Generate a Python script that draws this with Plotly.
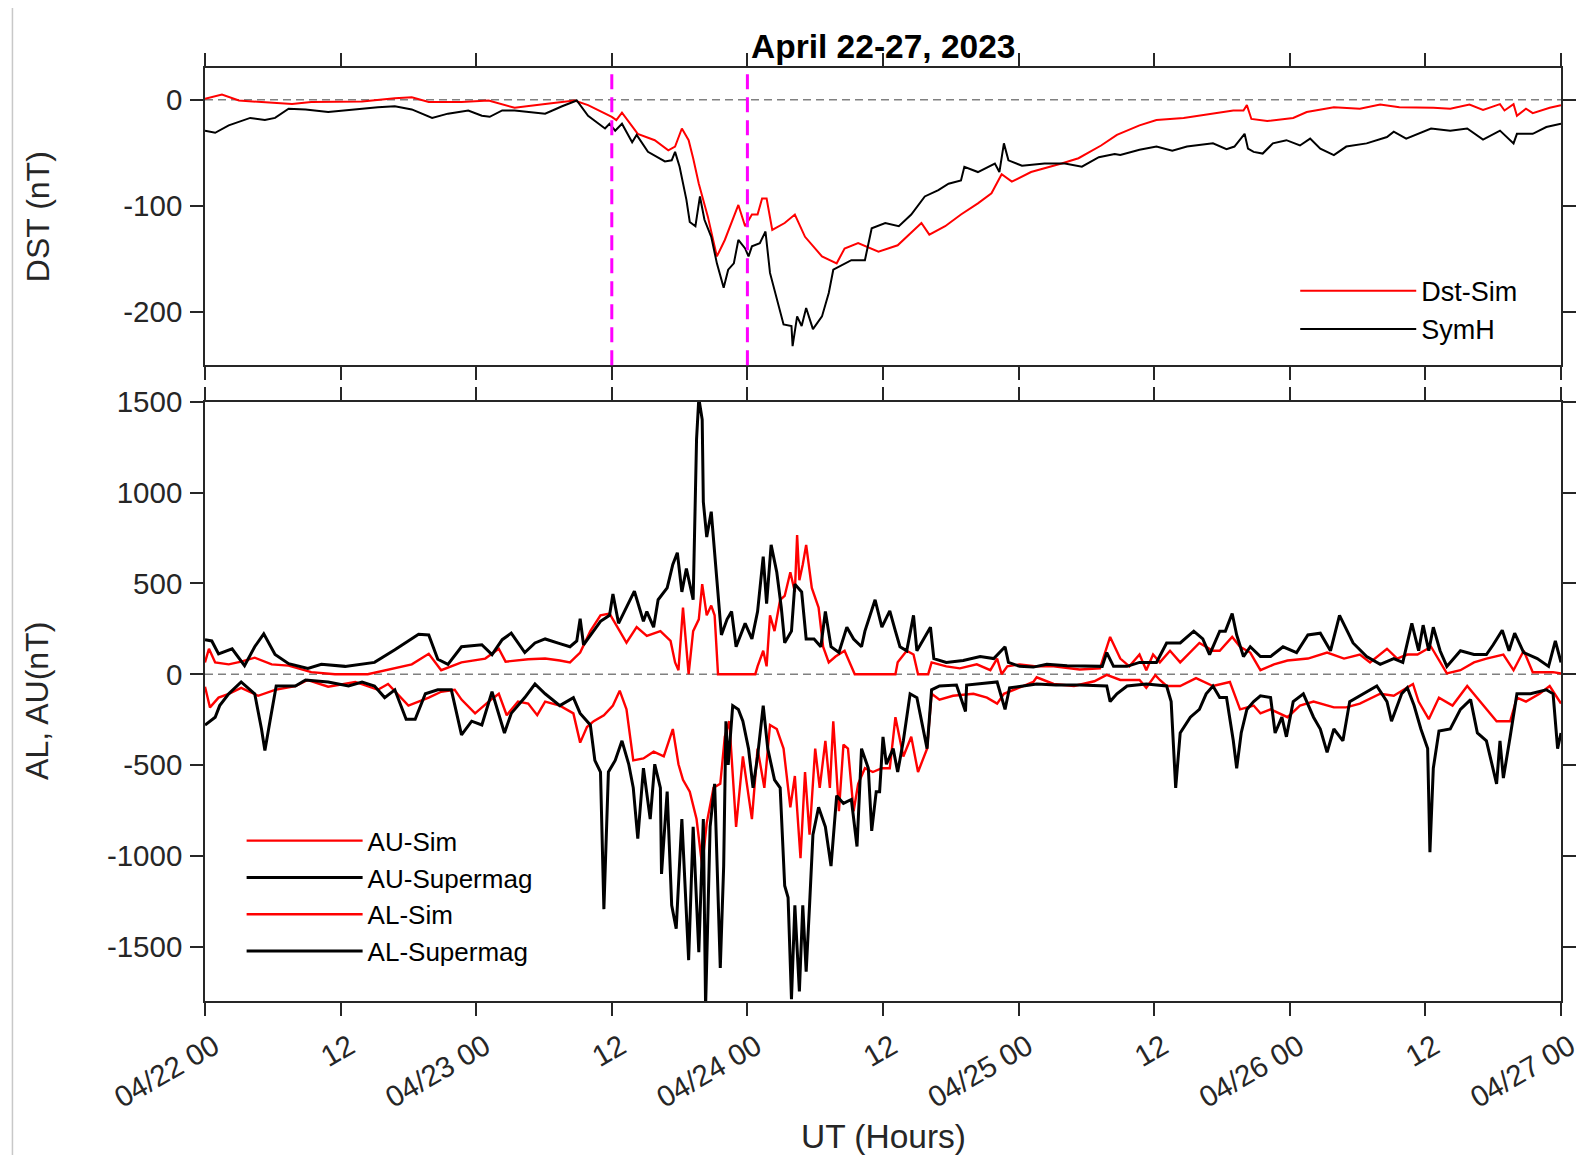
import plotly.graph_objects as go
from plotly.subplots import make_subplots

# ---------------- data (hours since 2023-04-22 00 UT) ----------------
dst_sim_t = [0, 1.5, 3.0, 4.7, 7.7, 9.4, 13.9, 16.8, 18.3, 19.8, 22.7, 25.1, 26.3, 27.4, 30.1, 31.6,
             32.7, 33.9, 36.0, 36.4, 36.9, 38.3, 39.8, 41.0, 41.6, 42.2, 42.8, 43.2, 43.7, 44.5, 45.3,
             46.0, 47.2, 47.8, 48.4, 48.9, 49.3, 49.7, 50.2, 51.3, 52.2, 53.1, 54.6, 55.9, 56.6, 57.8,
             59.6, 61.3, 63.4, 64.1, 65.5, 66.9, 68.4, 69.6, 70.5, 71.4, 73.1, 75.8, 77.3, 79.3, 80.7,
             82.7, 84.2, 86.6, 88.6, 91.0, 91.9, 92.2, 92.6, 94.0, 96.3, 97.5, 99.9, 102.2, 104.0, 105.7,
             108.7, 110.2, 111.9, 113.1, 114.6, 115.0, 115.8, 116.1, 116.9, 117.5, 119.0, 120.0]
dst_sim = [1, 5, -0.6, -2, -4, -2, -1.5, 1.5, 2.5, -2, -2, -0.6, -4, -7.5, -4, -2,
           -0.6, -5, -16, -19, -12, -32, -38, -47.5, -44, -27, -38, -55, -79, -110, -147.5,
           -132, -99, -119, -108, -108, -93, -93, -122.5, -116, -108, -129, -147.5, -154, -140, -135,
           -143, -137, -116, -127, -119, -108, -97.5, -88, -70, -77, -68, -60, -55, -43, -33,
           -24, -19, -17, -14, -10, -10, -5, -18, -20, -17, -11.5, -7, -8.4, -4.4, -7,
           -7.5, -8.4, -4.4, -9.4, -4, -10, -4, -15, -8.4, -12.5, -7.5, -5]

symh_t = [0, 0.9, 2.1, 3.0, 4.0, 5.3, 6.2, 7.4, 8.9, 10.9, 13.9, 15.3, 16.8, 18.3, 20.1, 21.5, 23.3,
          24.5, 25.2, 26.3, 27.4, 30.1, 31.6, 32.9, 33.9, 35.4, 35.8, 36.3, 36.9, 37.8, 38.2, 39.2,
          40.7, 41.3, 41.6, 42.0, 42.6, 42.9, 43.4, 43.8, 44.2, 44.8, 45.3, 45.9, 46.3, 46.8, 47.2,
          47.8, 48.1, 48.4, 49.1, 49.6, 50.0, 50.7, 51.2, 51.9, 52.0, 52.4, 52.8, 53.2, 53.8, 54.6,
          55.2, 55.6, 56.6, 57.2, 58.4, 59.0, 60.2, 61.4, 62.5, 63.7, 64.9, 65.8, 66.9, 67.2, 68.4,
          69.9, 70.3, 70.7, 71.1, 72.3, 74.3, 76.1, 77.6, 79.1, 80.5, 81.0, 82.7, 84.2, 85.6, 86.9,
          89.2, 90.4, 91.1, 92.0, 92.3, 92.8, 93.6, 94.5, 95.7, 96.9, 97.8, 98.7, 99.9, 101.0, 102.8,
          104.6, 105.2, 106.3, 108.5, 110.2, 111.7, 113.1, 114.6, 115.8, 116.1, 117.5, 118.7, 120.0]
symh = [-29, -31, -24, -21, -17, -19, -17, -8.4, -9, -11.5, -8, -7, -6, -9, -17, -13, -10,
        -15, -16, -10, -10, -13, -6, -0.6, -15, -27, -22.5, -29, -22.5, -40, -33, -49,
        -58, -57, -49, -63, -94, -115, -119, -91, -113, -129, -154, -177, -160, -154, -132,
        -140, -147.5, -138, -135, -124, -163, -191, -211.5, -213, -232, -204, -213, -196, -216, -204,
        -182, -160, -154, -151, -151, -121, -116, -119, -108, -91, -85, -79, -76, -63, -68,
        -60, -68, -41, -57, -62, -60, -60, -63, -54, -51, -52, -47, -44, -48, -44,
        -41, -46.5, -44, -32, -46, -49, -50.6, -41, -38, -43, -36.5, -46, -52, -44, -41,
        -35, -30, -36.5, -27, -29, -27, -37.5, -29, -41, -32, -32, -25.6, -22.5]

au_sim_t = [0, 0.35, 0.9, 2.1, 3.2, 4.4, 5.9, 7.4, 9.4, 11.5, 14.4, 16.8, 18.3, 19.8, 20.9, 22.7,
            24.8, 26.0, 26.6, 28.6, 30.1, 31.4, 32.3, 33.2, 34.1, 35.0, 35.8, 36.6, 37.3, 38.2, 39.1,
            40.3, 41.2, 41.6, 41.9, 42.3, 42.8, 43.2, 43.7, 44.0, 44.4, 44.8, 45.1, 45.4, 48.7, 48.9,
            49.4, 49.7, 50.0, 50.4, 50.9, 51.3, 51.8, 52.2, 52.4, 52.6, 52.9, 53.2, 53.7, 54.3, 54.7,
            55.2, 55.8, 56.6, 57.2, 57.5, 61.1, 61.3, 62.1, 62.7, 63.1, 64.0, 64.3, 65.6, 66.8, 68.3,
            69.5, 70.1, 70.5, 71.0, 72.1, 73.6, 75.1, 77.4, 79.2, 80.1, 81.0, 81.8, 82.7, 83.3, 83.9,
            84.5, 85.4, 86.3, 88.0, 89.2, 89.8, 90.9, 91.6, 92.5, 93.4, 94.6, 95.8, 97.6, 99.3, 100.8,
            102.2, 103.1, 104.6, 105.5, 106.4, 107.3, 108.5, 109.3, 109.9, 111.1, 112.3, 113.4, 114.9,
            115.8, 116.7, 117.5, 119.3, 120.0]
au_sim = [65, 140, 65, 54, 69, 91, 54, 47, 11, 0, 0, 32, 54, 112, 22, 65,
          86, 140, 69, 82, 86, 75, 65, 119, 237, 324, 334, 248, 173, 259, 211,
          237, 183, 65, 22, 367, 0, 237, 302, 496, 324, 378, 324, 0, 0, 43,
          129, 43, 324, 237, 410, 431, 561, 453, 766, 518, 604, 712, 475, 367, 151,
          65, 97, 129, 43, 0, 0, 65, 129, 108, 0, 0, 65, 43, 32, 54,
          22, 86, 0, 43, 54, 43, 43, 26, 32, 205, 86, 43, 108, 22, 108,
          65, 129, 65, 172, 129, 129, 205, 151, 119, 22, 54, 75, 86, 119, 86,
          108, 65, 140, 86, 108, 108, 151, 65, 4, 22, 65, 86, 108,
          22, 129, 11, 11, 4]

au_sm_t = [0, 0.6, 1.2, 2.4, 3.5, 4.4, 5.2, 6.2, 7.4, 9.1, 10.3, 12.4, 15.0, 16.8, 18.9, 19.8, 20.6,
           21.5, 22.7, 24.5, 25.4, 26.3, 27.1, 28.3, 29.2, 30.1, 31.4, 32.3, 32.9, 33.2, 33.5, 34.1,
           35.0, 35.8, 36.1, 36.6, 37.3, 38.0, 38.8, 39.1, 39.7, 40.1, 40.9, 41.4, 41.8, 42.2, 42.6,
           43.2, 43.5, 43.7, 44.0, 44.1, 44.4, 44.8, 45.3, 45.7, 46.2, 46.6, 47.0, 47.8, 48.4, 48.9,
           49.4, 49.7, 50.1, 50.6, 51.0, 51.3, 51.9, 52.2, 52.8, 53.2, 53.9, 54.5, 54.9, 55.4, 56.1,
           56.8, 57.4, 58.1, 58.4, 59.3, 59.9, 60.6, 61.1, 61.5, 62.1, 62.7, 63.0, 63.6, 64.2, 64.5,
           65.6, 67.1, 68.6, 69.8, 70.8, 71.1, 72.1, 73.3, 74.5, 76.3, 78.0, 79.4, 79.8, 80.4, 81.6,
           82.7, 84.2, 85.1, 86.3, 87.5, 88.3, 88.9, 89.8, 90.3, 90.9, 91.3, 91.9, 92.5, 93.4, 94.3,
           95.4, 96.6, 97.6, 98.7, 99.6, 100.4, 101.0, 101.6, 102.8, 104.0, 105.2, 106.0, 106.8, 107.4,
           107.8, 108.3, 108.7, 109.3, 109.9, 111.1, 112.3, 113.4, 114.0, 114.8, 115.4, 115.9, 116.7,
           117.9, 118.9, 119.5, 120.0]
au_sm = [190, 183, 112, 140, 47, 151, 222, 108, 58, 32, 54, 43, 65, 134, 220, 216, 82,
         54, 151, 162, 108, 190, 226, 119, 172, 194, 168, 151, 183, 306, 162, 216,
         291, 324, 442, 280, 367, 457, 291, 345, 259, 410, 475, 604, 669, 453, 582,
         410, 1294, 1520, 1402, 949, 755, 895, 518, 216, 302, 345, 151, 280, 194, 345,
         647, 388, 712, 561, 367, 173, 237, 496, 453, 194, 194, 151, 345, 151, 119,
         259, 194, 151, 237, 410, 259, 349, 237, 151, 129, 324, 129, 194, 259, 86,
         65, 75, 97, 86, 151, 65, 43, 39, 54, 47, 43, 43, 119, 43, 43,
         65, 65, 172, 172, 237, 194, 108, 237, 237, 334, 216, 97, 151, 97, 97,
         151, 119, 216, 226, 129, 324, 248, 172, 97, 54, 86, 65, 280, 129,
         270, 129, 259, 129, 43, 129, 108, 108, 162, 242, 129, 226, 119,
         86, 43, 183, 65]

al_sim_t = [0, 0.44, 1.2, 2.1, 3.2, 4.7, 6.2, 8.0, 9.1, 10.9, 13.3, 15.3, 16.2, 18.0, 19.8, 20.9,
            22.1, 22.7, 23.9, 25.1, 26.0, 26.7, 27.7, 28.6, 29.4, 30.1, 31.4, 32.6, 33.2, 33.8, 34.4,
            35.3, 36.1, 36.7, 37.3, 37.9, 38.8, 39.7, 40.6, 41.4, 41.9, 42.3, 42.9, 43.5, 44.0, 44.4,
            45.0, 45.6, 46.0, 46.4, 47.0, 47.6, 48.4, 48.9, 49.5, 50.0, 50.6, 51.2, 51.8, 52.2, 52.7,
            53.1, 53.5, 54.0, 54.4, 54.9, 55.3, 55.6, 56.1, 56.5, 56.9, 57.4, 57.8, 58.4, 59.1, 59.9,
            60.6, 61.1, 61.8, 62.5, 63.1, 63.9, 64.3, 65.0, 66.2, 68.0, 69.2, 70.1, 70.7, 71.6, 73.3,
            73.6, 75.1, 76.9, 78.7, 79.8, 81.0, 82.7, 83.3, 84.1, 84.5, 85.1, 86.3, 87.7, 89.2, 90.7,
            91.6, 92.8, 93.4, 94.3, 95.8, 96.9, 98.1, 99.9, 101.0, 102.2, 104.0, 105.2, 106.9, 107.4,
            108.3, 109.2, 110.4, 111.7, 113.1, 114.3, 115.5, 116.1, 116.9, 118.1, 119.0, 120.0]
al_sim = [-69, -183, -129, -108, -75, -119, -86, -65, -32, -69, -43, -86, -54, -173, -129, -97,
          -86, -140, -216, -151, -108, -226, -151, -162, -226, -151, -173, -216, -377, -291, -259,
          -226, -173, -91, -194, -475, -464, -427, -453, -302, -496, -582, -647, -798, -1057, -820,
          -626, -604, -345, -259, -841, -453, -798, -410, -626, -280, -302, -410, -733, -561, -1014,
          -539, -884, -410, -626, -367, -626, -259, -755, -388, -410, -755, -604, -518, -539, -518,
          -518, -237, -453, -345, -539, -410, -108, -140, -119, -108, -129, -162, -108, -86, -43,
          -17, -54, -65, -39, -4, -32, -32, -75, -5, -32, -65, -65, -22, -65, -43,
          -194, -173, -216, -194, -237, -173, -151, -183, -183, -162, -108, -119, -54, -151,
          -248, -129, -173, -65, -173, -259, -259, -129, -151, -108, -65, -162]

al_sm_t = [0, 0.9, 1.3, 2.1, 3.2, 4.4, 5.0, 5.3, 5.75, 6.3, 8.0, 8.9, 10.9, 12.7, 13.9, 15.0, 15.9,
           16.8, 17.8, 18.6, 19.5, 20.6, 21.8, 22.7, 23.6, 24.5, 25.4, 26.5, 27.1, 28.3, 29.2, 30.1,
           31.4, 32.6, 33.2, 34.1, 34.5, 35.0, 35.3, 35.7, 36.3, 36.9, 37.5, 37.9, 38.3, 38.8, 39.4,
           39.8, 40.3, 40.4, 40.9, 41.3, 41.7, 42.2, 42.8, 43.2, 43.7, 44.1, 44.3, 44.7, 45.1, 45.6,
           45.9, 46.1, 46.3, 46.7, 47.2, 47.6, 48.1, 48.5, 48.9, 49.4, 49.8, 50.4, 50.9, 51.3, 51.6,
           51.9, 52.2, 52.6, 52.9, 53.2, 53.5, 53.8, 54.3, 54.9, 55.4, 55.9, 56.5, 57.2, 57.7, 58.1,
           58.7, 59.0, 59.4, 59.7, 60.0, 60.3, 60.9, 61.3, 61.8, 62.4, 63.0, 63.4, 63.9, 64.3, 65.0,
           66.5, 67.3, 67.4, 68.6, 70.1, 70.8, 71.2, 72.4, 73.6, 75.3, 77.4, 79.8, 80.1, 80.7, 81.6,
           83.3, 85.1, 85.5, 85.9, 86.3, 87.2, 88.0, 88.6, 89.2, 89.8, 90.4, 91.0, 91.3, 91.7, 92.2,
           92.8, 93.4, 94.3, 94.7, 95.3, 95.7, 96.3, 97.2, 98.1, 98.7, 99.3, 99.9, 100.7, 101.3, 102.5,
           103.7, 104.6, 105.0, 105.9, 106.4, 107.0, 107.6, 108.2, 108.4, 108.7, 109.2, 110.2, 111.1,
           112.0, 112.6, 113.4, 114.3, 114.6, 114.9, 115.5, 116.1, 117.3, 118.7, 119.3, 119.7, 120.0]
al_sm = [-280, -237, -173, -108, -43, -108, -302, -421, -259, -65, -65, -32, -43, -65, -43, -65, -129,
         -86, -248, -248, -108, -86, -86, -334, -259, -280, -97, -324, -216, -129, -54, -108,
         -173, -129, -216, -280, -475, -539, -1294, -539, -475, -367, -496, -626, -906, -518, -798,
         -496, -626, -1100, -647, -1273, -1402, -798, -1575, -841, -1531, -798, -1833, -841, -604, -1618,
         -1057, -259, -500, -173, -194, -259, -410, -626, -453, -173, -410, -582, -626, -1165, -1230,
         -1790, -1273, -1747, -1273, -1639, -1273, -884, -733, -841, -1057, -669, -712, -690, -949, -410,
         -518, -863, -647, -647, -345, -496, -410, -539, -367, -108, -129, -259, -410, -86, -65,
         -60, -205, -60, -54, -43, -194, -75, -65, -54, -60, -60, -65, -151, -108, -65,
         -54, -65, -151, -626, -324, -237, -194, -108, -65, -129, -129, -367, -518, -324, -194,
         -151, -119, -129, -324, -237, -345, -151, -108, -237, -302, -431, -302, -367, -151, -108,
         -65, -151, -259, -108, -75, -173, -302, -410, -981, -518, -313, -302, -194,
         -140, -324, -367, -604, -367, -572, -345, -108, -108, -86, -108, -410, -324]

x_tick_vals = [0, 12, 24, 36, 48, 60, 72, 84, 96, 108, 120]
x_tick_text = ["04/22 00", "12", "04/23 00", "12", "04/24 00", "12",
               "04/25 00", "12", "04/26 00", "12", "04/27 00"]
dst_ticks = [-200, -100, 0]
dst_tick_text = ["-200", "-100", "0"]
ae_ticks = [-1500, -1000, -500, 0, 500, 1000, 1500]
ae_tick_text = ["-1500", "-1000", "-500", "0", "500", "1000", "1500"]
event_hours = [36, 48]

# ---------------- figure ----------------
FONT = "Arial, Liberation Sans, Helvetica, sans-serif"
AX = "#262626"

fig = make_subplots(rows=2, cols=1, shared_xaxes=True)

fig.add_trace(go.Scatter(x=dst_sim_t, y=dst_sim, mode="lines", name="Dst-Sim",
                         line=dict(color="#ff0000", width=2), legend="legend"), row=1, col=1)
fig.add_trace(go.Scatter(x=symh_t, y=symh, mode="lines", name="SymH",
                         line=dict(color="#000000", width=2), legend="legend"), row=1, col=1)

fig.add_trace(go.Scatter(x=au_sim_t, y=au_sim, mode="lines", name="AU-Sim",
                         line=dict(color="#ff0000", width=2.4), legend="legend2"), row=2, col=1)
fig.add_trace(go.Scatter(x=au_sm_t, y=au_sm, mode="lines", name="AU-Supermag",
                         line=dict(color="#000000", width=3), legend="legend2"), row=2, col=1)
fig.add_trace(go.Scatter(x=al_sim_t, y=al_sim, mode="lines", name="AL-Sim",
                         line=dict(color="#ff0000", width=2.4), legend="legend2"), row=2, col=1)
fig.add_trace(go.Scatter(x=al_sm_t, y=al_sm, mode="lines", name="AL-Supermag",
                         line=dict(color="#000000", width=3), legend="legend2"), row=2, col=1)

axis_common = dict(showline=True, linecolor=AX, linewidth=1.5, mirror="ticks",
                   ticks="outside", ticklen=13, tickwidth=1.5, tickcolor=AX,
                   showgrid=False, zeroline=False)

fig.update_xaxes(range=[0, 120], tickmode="array", tickvals=x_tick_vals, ticktext=x_tick_text,
                 tickfont=dict(family=FONT, size=29.5, color=AX), **axis_common)
fig.update_xaxes(showticklabels=False, row=1, col=1)
fig.update_xaxes(tickangle=-30, ticklabelshift=9, ticklabelstandoff=2, row=2, col=1)
fig.update_yaxes(tickfont=dict(family=FONT, size=29.5, color=AX), ticklabelstandoff=2,
                 **axis_common)
fig.update_yaxes(range=[-250, 30], tickmode="array", tickvals=dst_ticks, ticktext=dst_tick_text,
                 row=1, col=1)
fig.update_yaxes(range=[-1800, 1500], tickmode="array", tickvals=ae_ticks, ticktext=ae_tick_text,
                 row=2, col=1)

TOP_DOM = [0.6814, 1.0]
BOT_DOM = [0.0, 0.6422]
fig.update_layout(yaxis=dict(domain=TOP_DOM), yaxis2=dict(domain=BOT_DOM))

fig.update_layout(
    width=1582, height=1147, autosize=False,
    margin=dict(l=197, r=29, t=60, b=154, autoexpand=False),
    paper_bgcolor="white", plot_bgcolor="white",
    font=dict(family=FONT, color=AX),
    showlegend=True,
    legend=dict(x=0.804, y=0.787, xanchor="left", yanchor="top", bgcolor="rgba(0,0,0,0)",
                font=dict(family=FONT, size=27, color="#000000"), itemwidth=116,
                tracegroupgap=0),
    legend2=dict(x=0.027, y=0.197, xanchor="left", yanchor="top", bgcolor="rgba(0,0,0,0)",
                 font=dict(family=FONT, size=26, color="#000000"), itemwidth=116,
                 tracegroupgap=0),
    annotations=[
        dict(text="<b>April 22-27, 2023</b>", xref="paper", yref="paper", x=0.5, y=1.0,
             xanchor="center", yanchor="middle", yshift=22, showarrow=False,
             font=dict(family=FONT, size=33.5, color="#000000")),
        dict(text="DST (nT)", xref="paper", yref="paper", x=-0.1235, y=sum(TOP_DOM) / 2,
             xanchor="center", yanchor="middle", textangle=-90, showarrow=False,
             font=dict(family=FONT, size=32, color=AX)),
        dict(text="AL, AU(nT)", xref="paper", yref="paper", x=-0.1235, y=sum(BOT_DOM) / 2,
             xanchor="center", yanchor="middle", textangle=-90, showarrow=False,
             font=dict(family=FONT, size=32, color=AX)),
        dict(text="UT (Hours)", xref="paper", yref="paper", x=0.5, y=0.0,
             xanchor="center", yanchor="middle", yshift=-135, showarrow=False,
             font=dict(family=FONT, size=33.5, color=AX)),
    ],
)

# reference lines (zero level, event markers) and the faint page frame line
for r in (1, 2):
    fig.add_hline(y=0, line=dict(color="#808080", width=1.5, dash="8px,5px"), row=r, col=1,
                  layer="below")
for h in event_hours:
    fig.add_vline(x=h, line=dict(color="#ff00ff", width=3, dash="15px,8px"), row=1, col=1)
fig.add_shape(type="line", xref="paper", yref="paper", x0=-0.142, x1=-0.142,
              y0=-0.166, y1=1.073, line=dict(color="#c8c8c8", width=1.5))

fig.write_html("out.html")
